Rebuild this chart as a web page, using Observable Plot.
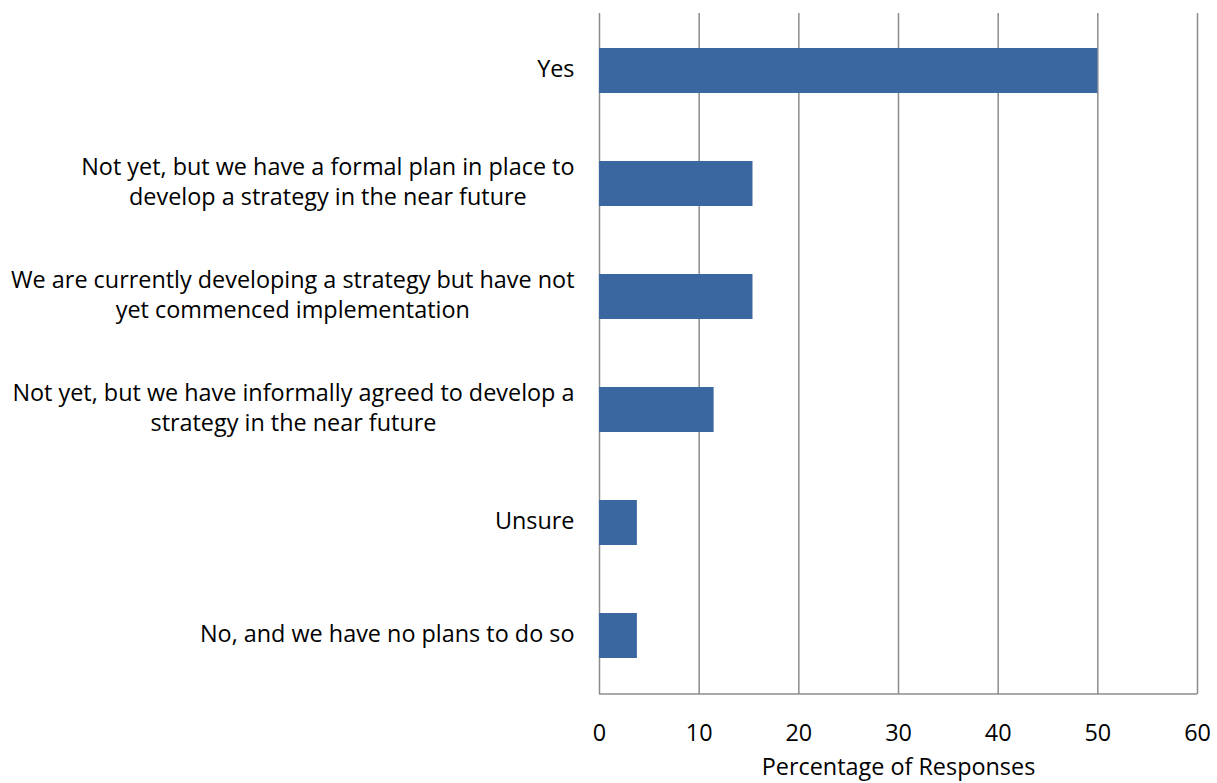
<!DOCTYPE html>
<html><head><meta charset="utf-8">
<script src="https://cdn.jsdelivr.net/npm/d3@7"></script>
<script src="https://cdn.jsdelivr.net/npm/@observablehq/plot@0.6"></script>
<style>body{margin:0;background:#fff}</style>
</head><body><div id="chart"></div>
<script>
const categories = [
  "Yes",
  "Not yet, but we have a formal plan in place to\ndevelop a strategy in the near future",
  "We are currently developing a strategy but have not\nyet commenced implementation",
  "Not yet, but we have informally agreed to develop a\nstrategy in the near future",
  "Unsure",
  "No, and we have no plans to do so"
];
const values = [50, 15.4, 15.4, 11.5, 3.8, 3.8];
const xTicks = [0, 10, 20, 30, 40, 50, 60];
const xLabel = "Percentage of Responses";

const FONT = "Open Sans";
const ctx = document.createElement("canvas").getContext("2d");
ctx.font = `20px "${FONT}"`;
const widest20 = ctx.measureText("We are currently developing a strategy but have not").width;
const FS = Math.round(20 * 564 / widest20 * 10) / 10;
ctx.font = `${FS}px "${FONT}"`;
const widthOf = s => Math.max(...s.split("\n").map(l => ctx.measureText(l).width));

const data = categories.map((c, i) => ({cat: c, value: values[i]}));
const labels = data.map(d => ({cat: d.cat, w: widthOf(d.cat)}));

const W = 1217, H = 783, ML = 599, MR = 20, MT = 13, MB = 89;
const plot = Plot.plot({
  width: W, height: H,
  marginLeft: ML, marginRight: MR, marginTop: MT, marginBottom: MB,
  style: {fontFamily: `"${FONT}"`, fontSize: FS + "px", color: "#000", background: "#fff"},
  x: {domain: [0, 60], ticks: xTicks, label: null},
  y: {domain: categories, paddingInner: 0.6, paddingOuter: 0.3, align: 0.5, label: null},
  marks: [
    Plot.gridX(xTicks, {stroke: "#8c8c8c", strokeOpacity: 1, strokeWidth: 1.5}),
    Plot.barX(data, {x: "value", y: "cat", fill: "#3A67A0"}),
    Plot.axisX({ticks: xTicks, tickSize: 0, tickPadding: 30, fontSize: FS, label: null}),
    Plot.axisY({tickSize: 0, text: () => "", label: null}),
    Plot.text(labels, {x: 0, y: "cat", text: "cat", textAnchor: "middle", lineAnchor: "middle",
      dy: -4, fontSize: FS, fill: "#000", lineHeight: 30 / FS}),
    Plot.text([xLabel], {frameAnchor: "bottom", x: 30, dy: 80, fontSize: FS, fill: "#000"})
  ]
});
document.getElementById("chart").appendChild(plot);

const svg = d3.select(plot);
const texts = svg.selectAll("g[aria-label='text']").filter((d, i) => i === 0).selectAll("text");
texts.each(function(_, i) {
  const w = labels[i].w;
  const t = d3.select(this);
  const tr = t.attr("transform") || "";
  const m = /translate\(([-\d.]+),([-\d.]+)\)/.exec(tr);
  if (m) t.attr("transform", `translate(${+m[1] - 25 - w / 2},${m[2]})`);
});
const sx = plot.scale("x");
svg.append("line").attr("x1", sx.apply(0)).attr("x2", sx.apply(60))
  .attr("y1", H - MB).attr("y2", H - MB).attr("stroke", "#8c8c8c").attr("stroke-width", 1.5);
</script></body></html>
